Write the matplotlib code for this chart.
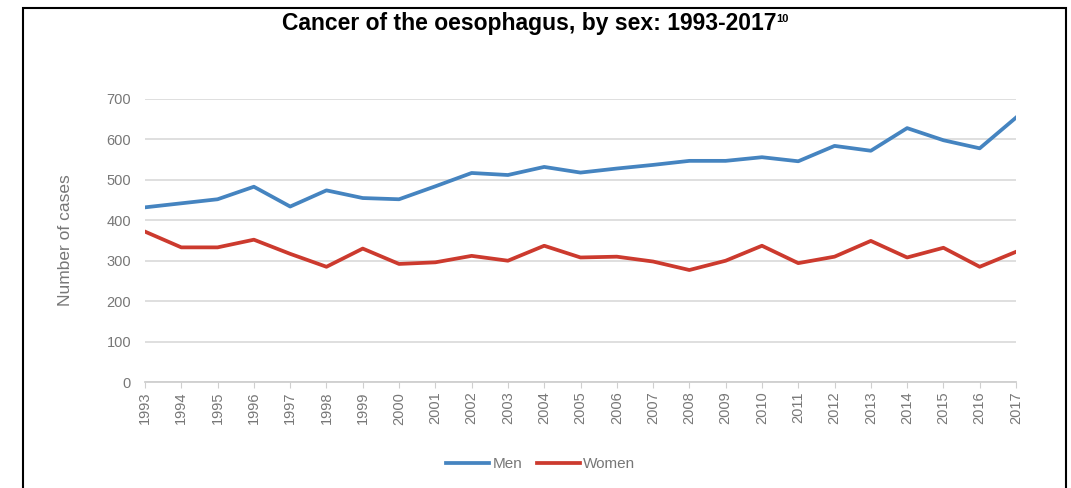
import matplotlib.pyplot as plt
from matplotlib.patches import Rectangle

years = list(range(1993, 2018))
men = [432, 442, 452, 483, 434, 474, 455, 452, 484, 517, 512, 532, 518,
       528, 537, 547, 547, 556, 546, 584, 572, 628, 598, 578, 654]
women = [372, 333, 333, 352, 317, 285, 330, 292, 296, 312, 300, 337, 308,
         310, 298, 277, 300, 337, 294, 310, 349, 308, 332, 285, 322]
y_ticks = [0, 100, 200, 300, 400, 500, 600, 700]

plt.rcParams['font.family'] = ['Liberation Sans', 'DejaVu Sans']

fig = plt.figure(figsize=(10.71, 4.88), dpi=100)
ax = fig.add_axes([145/1071, 1 - 382/488, (1016 - 145)/1071, (382 - 99)/488])

ax.plot(years, men, color='#4584c0', lw=2.7, label='Men')
ax.plot(years, women, color='#cc3a2e', lw=2.7, label='Women')

ax.set_xlim(1993, 2017)
ax.set_ylim(0, 700)
ax.set_yticks(y_ticks)
ax.set_xticks(years)
ax.set_xticklabels([str(y) for y in years], rotation=90)
ax.grid(axis='y', color='#dcdcdc', lw=1.3)
ax.set_axisbelow(True)
for s in ['top', 'right', 'left']:
    ax.spines[s].set_visible(False)
ax.spines['bottom'].set_color('#cfcfcf')
ax.spines['bottom'].set_linewidth(1.3)
ax.tick_params(axis='y', length=0, pad=10, labelsize=10.5, labelcolor='#777777')
ax.tick_params(axis='x', length=4, color='#cfcfcf', pad=3, labelsize=10.5,
               labelcolor='#777777')
ax.set_ylabel('Number of cases', color='#777777', fontsize=12.5, labelpad=24)

# title with superscript reference
title = fig.text(0.494, 0.951, 'Cancer of the oesophagus, by sex: 1993-2017',
                 ha='center', va='center', fontsize=16.5, fontweight='bold')
ax.annotate('10', xy=(1, 0.93), xycoords=title, xytext=(0.3, 0),
            textcoords='offset points', va='top', ha='left',
            fontsize=8, fontweight='bold', annotation_clip=False)

leg = fig.legend(loc='center', bbox_to_anchor=(0.505, 0.049), ncol=2, frameon=False,
                 fontsize=11, handlelength=2.8, columnspacing=1.0, handletextpad=0.2)
for t in leg.get_texts():
    t.set_color('#777777')

# outer frame (open at the bottom edge of the picture)
fig.patches.append(Rectangle((23/1071, -0.05), (1066 - 23)/1071, 1.05 - 8/488,
                             transform=fig.transFigure, fill=False,
                             edgecolor='black', lw=1.5))

fig.savefig('out.png', dpi=100)
